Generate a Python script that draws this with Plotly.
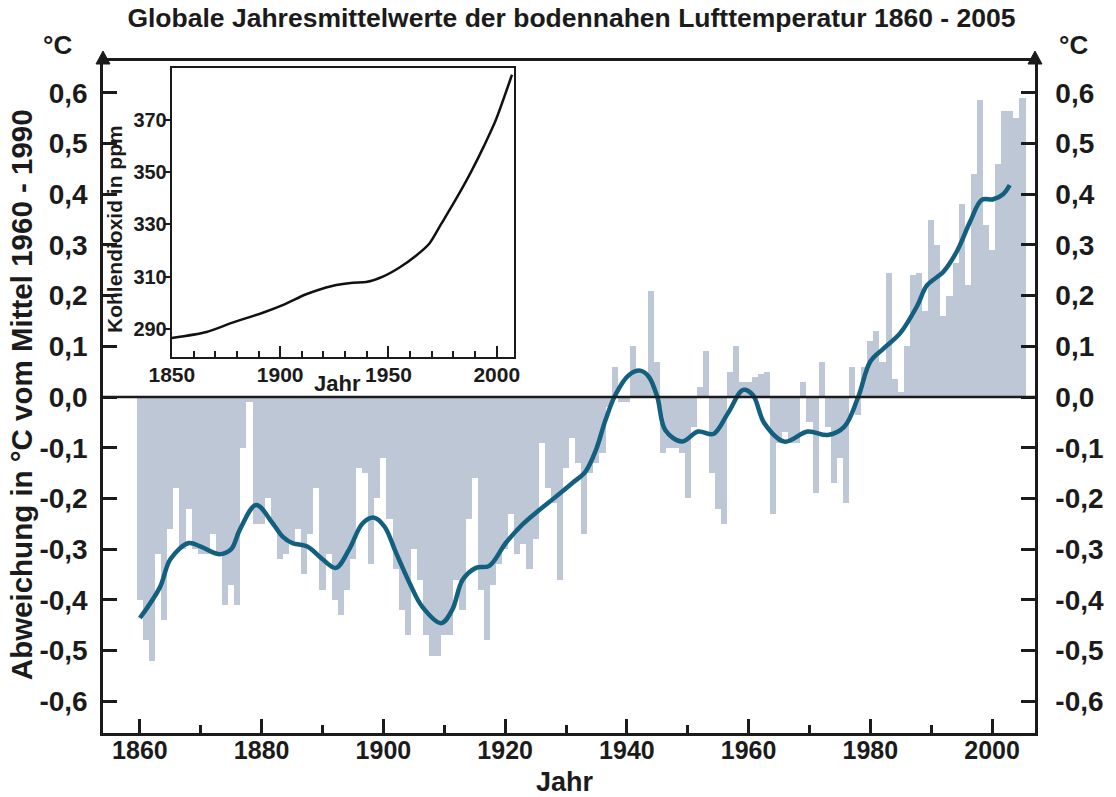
import plotly.graph_objects as go

# ---------------- data ----------------
years = list(range(1860, 2006))
temp_anomaly = [
    -0.40, -0.48, -0.52, -0.31, -0.44, -0.26, -0.18, -0.30, -0.22, -0.30,   # 1860s
    -0.31, -0.31, -0.27, -0.31, -0.41, -0.37, -0.41, -0.10, -0.01, -0.25,   # 1870s
    -0.25, -0.20, -0.25, -0.32, -0.31, -0.29, -0.26, -0.35, -0.27, -0.18,   # 1880s
    -0.38, -0.31, -0.40, -0.43, -0.38, -0.32, -0.14, -0.15, -0.33, -0.20,   # 1890s
    -0.12, -0.24, -0.34, -0.42, -0.47, -0.30, -0.36, -0.47, -0.51, -0.51,   # 1900s
    -0.47, -0.47, -0.36, -0.42, -0.24, -0.16, -0.38, -0.48, -0.37, -0.33,   # 1910s
    -0.30, -0.23, -0.31, -0.29, -0.34, -0.28, -0.09, -0.18, -0.21, -0.36,   # 1920s
    -0.14, -0.08, -0.13, -0.27, -0.15, -0.13, -0.11, -0.02, 0.06, -0.01,    # 1930s
    -0.01, 0.10, 0.05, 0.05, 0.21, 0.07, -0.11, -0.10, -0.10, -0.11,        # 1940s
    -0.20, -0.06, 0.02, 0.09, -0.15, -0.22, -0.25, 0.05, 0.10, 0.03,        # 1950s
    0.03, 0.04, 0.045, 0.05, -0.23, -0.09, -0.07, -0.09, -0.09, 0.03,       # 1960s
    -0.05, -0.19, 0.07, -0.06, -0.17, -0.12, -0.21, 0.06, -0.035, 0.06,     # 1970s
    0.11, 0.13, 0.07, 0.245, 0.035, 0.01, 0.10, 0.24, 0.245, 0.17,          # 1980s
    0.35, 0.30, 0.16, 0.20, 0.265, 0.38, 0.22, 0.44, 0.585, 0.34,           # 1990s
    0.29, 0.46, 0.565, 0.565, 0.55, 0.59,                                   # 2000s
]

smooth_years = [1860, 1863.3, 1865, 1868, 1870, 1873, 1875, 1876.4, 1879.1, 1881.8,
                1883.5, 1885, 1887.5, 1890, 1892.2, 1894.4, 1896.6, 1898.5, 1900.2, 1902.1,
                1904.3, 1906.4, 1909.5, 1911.3, 1913, 1915.2, 1917.4, 1920.1, 1922.8, 1925.6,
                1928.3, 1931, 1933.2, 1934.9, 1936.5, 1938.1, 1940.3, 1942.2, 1943.6, 1945,
                1946.3, 1949, 1951.7, 1954.2, 1956.6, 1959.1, 1960.7, 1962.6, 1965.9, 1969.7,
                1973, 1975.7, 1978, 1980, 1982.2, 1984.9, 1987.7, 1989.3, 1992, 1994.2,
                1996.4, 1998.3, 2000.2, 2001.8, 2002.9]
smooth_values = [-0.436, -0.375, -0.32, -0.288, -0.295, -0.31, -0.30, -0.262, -0.213, -0.249,
                 -0.276, -0.288, -0.295, -0.32, -0.337, -0.30, -0.249, -0.238, -0.256, -0.308,
                 -0.367, -0.414, -0.446, -0.42, -0.361, -0.337, -0.333, -0.288, -0.252, -0.223,
                 -0.197, -0.17, -0.147, -0.105, -0.045, 0.004, 0.043, 0.052, 0.04, 0.0,
                 -0.065, -0.088, -0.068, -0.073, -0.032, 0.014, 0.004, -0.052, -0.088, -0.068,
                 -0.075, -0.059, 0.0, 0.07, 0.096, 0.126, 0.18, 0.22, 0.247, 0.287,
                 0.346, 0.389, 0.39, 0.40, 0.418]

co2_years = [1850, 1866, 1878, 1892, 1902, 1912, 1924, 1933.6, 1939.7, 1947.4,
             1955.1, 1962.7, 1968.9, 1974.2, 1981, 1988, 1994, 1999.5, 2007]
co2_ppm = [286.4, 288.7, 292.3, 296.1, 299.3, 303.2, 306.4, 307.6, 307.9, 310.0,
           313.5, 318.0, 322.7, 330.0, 339.5, 350.0, 360.0, 370.0, 387.5]

temp_ticks = [-0.6, -0.5, -0.4, -0.3, -0.2, -0.1, 0.0, 0.1, 0.2, 0.3, 0.4, 0.5, 0.6]
temp_tick_text = ["-0,6", "-0,5", "-0,4", "-0,3", "-0,2", "-0,1", "0,0",
                  "0,1", "0,2", "0,3", "0,4", "0,5", "0,6"]
year_ticks = [1860, 1880, 1900, 1920, 1940, 1960, 1980, 2000]
co2_ticks = [290, 310, 330, 350, 370]
co2_year_ticks = [1850, 1900, 1950, 2000]

# ---------------- layout helpers ----------------
W, H = 1116, 797
ML, MR, MT, MB = 103, 79, 61, 64
PW, PH = W - ML - MR, H - MT - MB


def fx(px):
    return (px - ML) / PW


def fy(py):
    return (H - MB - py) / PH


FONT = "Liberation Sans, Arial, Helvetica, sans-serif"
INK = "#1b1b1b"
BAR = "#bdc7d6"
LINE = "#135f80"

fig = go.Figure()

fig.add_trace(go.Bar(x=years, y=temp_anomaly, width=1.0, marker=dict(color=BAR, line=dict(width=0)),
                     xaxis="x", yaxis="y", showlegend=False, hoverinfo="x+y"))
fig.add_trace(go.Scatter(x=smooth_years, y=smooth_values, mode="lines",
                         line=dict(color=LINE, width=4.5, shape="spline", smoothing=1.0),
                         xaxis="x", yaxis="y3", showlegend=False))
fig.add_trace(go.Scatter(x=co2_years, y=co2_ppm, mode="lines",
                         line=dict(color="#111111", width=2.5, shape="spline", smoothing=0.8),
                         xaxis="x2", yaxis="y2", showlegend=False))

yr_range = [1860 + (ML - 140) / 6.1, 1860 + (W - MR - 140) / 6.1]
t_range = [(397 - (H - MB)) / 507, (397 - MT) / 507]

axis_common = dict(showline=True, linecolor=INK, linewidth=2.5, showgrid=False, zeroline=False,
                   ticks="inside", tickcolor=INK, tickwidth=2.5)

fig.update_layout(
    width=W, height=H,
    margin=dict(l=ML, r=MR, t=MT, b=MB, pad=0),
    paper_bgcolor="white", plot_bgcolor="white",
    bargap=0,
    font=dict(family=FONT, color=INK),
    title=dict(text="Globale Jahresmittelwerte der bodennahen Lufttemperatur 1860 - 2005",
               x=0.512, xanchor="center", y=1 - 18 / H, yanchor="middle",
               font=dict(size=26.5, family=FONT, color=INK, weight="bold")),
    xaxis=dict(**axis_common, domain=[0, 1], range=yr_range, anchor="y", mirror=True,
               tickvals=year_ticks, ticklen=14,
               tickfont=dict(size=25, weight="bold"), ticklabelstandoff=-7,
               minor=dict(ticks="inside", ticklen=8, tickwidth=2.5, tickcolor=INK, dtick=10, tick0=1860)),
    yaxis=dict(**axis_common, domain=[0, 1], range=t_range, anchor="x",
               tickvals=temp_ticks, ticktext=temp_tick_text, ticklen=14,
               tickfont=dict(size=28, weight="bold"), ticklabelstandoff=7),
    yaxis3=dict(**axis_common, range=t_range, overlaying="y", side="right", anchor="x",
                tickvals=temp_ticks, ticktext=temp_tick_text, ticklen=14,
                tickfont=dict(size=28, weight="bold"), ticklabelstandoff=12),
    xaxis2=dict(showline=True, linecolor=INK, linewidth=2.2, mirror=True, showgrid=False, zeroline=False,
                domain=[fx(172), fx(515)], range=[1850, 2008], anchor="y2",
                ticks="inside", tickcolor=INK, tickwidth=2, ticklen=11,
                tickvals=co2_year_ticks, tickfont=dict(size=21, weight="bold"), ticklabelstandoff=-2,
                minor=dict(ticks="inside", ticklen=6, tickwidth=2, tickcolor=INK, dtick=10, tick0=1850)),
    yaxis2=dict(showline=True, linecolor=INK, linewidth=2.2, mirror=True, showgrid=False, zeroline=False,
                domain=[fy(357), fy(68)], range=[279.1, 390.1], anchor="x2",
                ticks="outside", tickcolor=INK, tickwidth=2, ticklen=6,
                tickvals=co2_ticks, tickfont=dict(size=20, weight="bold"), ticklabelstandoff=-7),
    yaxis4=dict(showline=False, showgrid=False, zeroline=False, overlaying="y2", side="right",
                anchor="x2", range=[279.1, 390.1], ticks="inside", tickcolor=INK, tickwidth=2,
                ticklen=7, tickvals=co2_ticks, showticklabels=False),
)

# inset background
fig.add_shape(type="rect", xref="x2 domain", yref="y2 domain", x0=0, x1=1, y0=0, y1=1,
              fillcolor="#cfd6e0", line=dict(width=0), layer="below")

# zero line of main chart
fig.add_shape(type="line", xref="paper", yref="y", x0=0, x1=1, y0=0, y1=0,
              line=dict(color=INK, width=2.5), layer="above")

# arrow heads at top of both vertical axes
for xp in (0.0, 1.0):
    fig.add_shape(type="path", xref="paper", yref="paper",
                  path=f"M {xp - 7 / PW},{fy(64)} L {xp + 7 / PW},{fy(64)} L {xp},{fy(51)} Z",
                  fillcolor=INK, line=dict(color=INK, width=1), layer="above")

ann_font = dict(family=FONT, color=INK, weight="bold")
fig.add_annotation(text="°C", xref="paper", yref="paper", x=fx(57), y=fy(45), showarrow=False,
                   font=dict(size=26, **ann_font), xanchor="center", yanchor="middle")
fig.add_annotation(text="°C", xref="paper", yref="paper", x=fx(1076), y=fy(45), showarrow=False,
                   font=dict(size=26, **ann_font), xanchor="center", yanchor="middle")
fig.add_annotation(text="Jahr", xref="paper", yref="paper", x=fx(566), y=fy(782), showarrow=False,
                   font=dict(size=27, **ann_font), xanchor="center", yanchor="middle")
fig.add_annotation(text="Abweichung in °C vom Mittel 1960 - 1990", xref="paper", yref="paper",
                   x=fx(21), y=fy(395), showarrow=False, textangle=-90,
                   font=dict(size=29.5, **ann_font), xanchor="center", yanchor="middle")
fig.add_annotation(text="Kohlendioxid in ppm", xref="paper", yref="paper",
                   x=fx(114), y=fy(229), showarrow=False, textangle=-90,
                   font=dict(size=21, **ann_font), xanchor="center", yanchor="middle")
fig.add_annotation(text="Jahr", xref="paper", yref="paper", x=fx(338), y=fy(383), showarrow=False,
                   font=dict(size=22, **ann_font), xanchor="center", yanchor="middle")

fig.write_html("out.html", config={"displayModeBar": False},
               post_script="document.body.style.margin='0px';")
